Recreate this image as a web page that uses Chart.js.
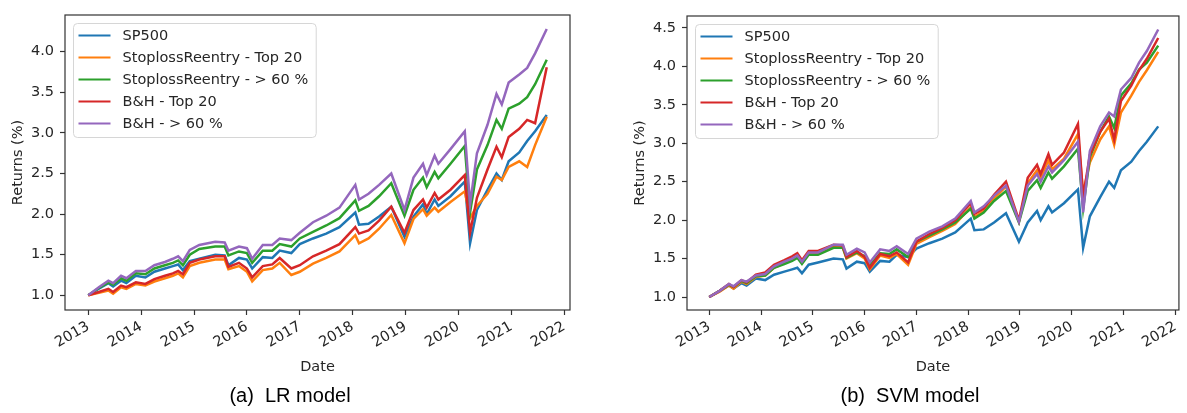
<!DOCTYPE html>
<html>
<head>
<meta charset="utf-8">
<script src="https://cdn.jsdelivr.net/npm/chart.js@4.4.0/dist/chart.umd.min.js"></script>
<style>
  body { margin: 0; background: #fff; width: 1187px; height: 413px; overflow: hidden; position: relative; }
  canvas { position: absolute; }
  .caption { position: absolute; width: 240px; text-align: center; font-family: "Liberation Sans", Arial, sans-serif; font-size: 20px; line-height: 24px; color: #000; white-space: pre; }
</style>
</head>
<body>
<canvas id="chart_lr" width="590" height="385" style="left:0px;top:0px"></canvas>
<canvas id="chart_svm" width="567" height="385" style="left:620px;top:0px"></canvas>
<div class="caption" style="left:170px;top:383px">(a)  LR model</div>
<div class="caption" style="left:790px;top:383px">(b)  SVM model</div>
<script>
// dates as decimal years
const dates = [2013.00, 2013.20, 2013.38, 2013.47, 2013.62, 2013.72, 2013.90,
  2014.08, 2014.25, 2014.45, 2014.60, 2014.70, 2014.79, 2014.92,
  2015.10, 2015.40, 2015.58, 2015.65, 2015.85,
  2016.00, 2016.10, 2016.30, 2016.48, 2016.62, 2016.84,
  2017.00, 2017.25, 2017.50, 2017.75,
  2018.05, 2018.12, 2018.30, 2018.50, 2018.73, 2018.98,
  2019.15, 2019.33, 2019.40, 2019.55, 2019.62, 2019.85,
  2020.12, 2020.22, 2020.35, 2020.55, 2020.72, 2020.82, 2020.95,
  2021.15, 2021.30, 2021.45, 2021.67];

const seriesLabels = ['SP500', 'StoplossReentry - Top 20', 'StoplossReentry - > 60 %', 'B&H - Top 20', 'B&H - > 60 %'];
const seriesColors = ['#1f77b4', '#ff7f0e', '#2ca02c', '#d62728', '#9467bd'];

const sp500 = [1.00,1.08,1.15,1.11,1.18,1.15,1.24, 1.22,1.29,1.33,1.36,1.38,1.31,1.42, 1.45,1.50,1.49,1.37,1.46,
  1.44,1.33,1.47,1.46,1.55,1.52, 1.63,1.70,1.76,1.84, 2.02,1.87,1.88,1.97,2.09,1.72,
  1.97,2.12,2.00,2.18,2.10,2.22, 2.40,1.64,2.05,2.30,2.50,2.42,2.65, 2.76,2.90,3.02,3.22];

// LR model
const lrStoplossTop20 = [1.00,1.03,1.06,1.02,1.10,1.08,1.14, 1.12,1.17,1.21,1.24,1.27,1.22,1.36, 1.40,1.44,1.44,1.32,1.36,
  1.29,1.17,1.31,1.33,1.40,1.25, 1.29,1.39,1.46,1.54, 1.74,1.64,1.70,1.82,1.99,1.64,
  1.94,2.06,1.98,2.08,2.03,2.15, 2.28,1.95,2.10,2.25,2.46,2.42,2.58, 2.65,2.58,2.85,3.20];
const lrStoplossOver60 = [1.00,1.09,1.16,1.13,1.21,1.18,1.27, 1.26,1.33,1.37,1.40,1.43,1.37,1.50, 1.57,1.60,1.60,1.49,1.54,
  1.52,1.40,1.55,1.55,1.63,1.60, 1.70,1.78,1.86,1.95, 2.17,2.04,2.10,2.22,2.38,1.98,
  2.30,2.45,2.33,2.52,2.44,2.62, 2.84,2.02,2.55,2.85,3.16,3.05,3.30, 3.36,3.44,3.60,3.90];
const lrBuyHoldTop20 = [1.00,1.04,1.08,1.04,1.12,1.10,1.16, 1.14,1.20,1.24,1.27,1.30,1.26,1.40, 1.44,1.48,1.48,1.35,1.40,
  1.33,1.22,1.36,1.38,1.46,1.33, 1.37,1.48,1.55,1.63, 1.84,1.76,1.80,1.92,2.09,1.77,
  2.05,2.18,2.08,2.26,2.18,2.30, 2.48,1.77,2.20,2.55,2.83,2.70,2.95, 3.05,3.16,3.12,3.81];
const lrBuyHoldOver60 = [1.00,1.10,1.18,1.15,1.24,1.21,1.30, 1.30,1.37,1.41,1.45,1.48,1.42,1.56, 1.62,1.66,1.65,1.55,1.60,
  1.58,1.45,1.62,1.62,1.70,1.68, 1.77,1.90,1.98,2.08, 2.36,2.18,2.25,2.36,2.50,2.05,
  2.45,2.62,2.48,2.72,2.62,2.80, 3.02,2.12,2.75,3.10,3.48,3.35,3.62, 3.72,3.80,3.98,4.28];

// SVM model
const svmStoplossTop20 = [1.00,1.07,1.15,1.11,1.20,1.17,1.26, 1.28,1.38,1.44,1.49,1.53,1.45,1.57, 1.57,1.65,1.64,1.50,1.57,
  1.50,1.36,1.54,1.51,1.56,1.42, 1.69,1.78,1.86,1.95, 2.17,2.04,2.12,2.28,2.44,1.98,
  2.48,2.65,2.55,2.78,2.66,2.80, 3.12,2.35,2.75,3.05,3.22,2.98,3.40, 3.62,3.80,3.95,4.19];
const svmStoplossOver60 = [1.00,1.08,1.16,1.13,1.21,1.18,1.27, 1.28,1.38,1.43,1.47,1.51,1.43,1.55, 1.55,1.64,1.64,1.51,1.58,
  1.53,1.41,1.57,1.56,1.62,1.52, 1.72,1.80,1.88,1.97, 2.15,2.02,2.10,2.25,2.38,1.97,
  2.38,2.52,2.42,2.62,2.54,2.70, 2.93,2.15,2.82,3.15,3.35,3.20,3.62, 3.78,3.96,4.05,4.27];
const svmBuyHoldTop20 = [1.00,1.08,1.17,1.13,1.22,1.19,1.29, 1.32,1.42,1.48,1.53,1.57,1.48,1.60, 1.60,1.68,1.67,1.52,1.60,
  1.52,1.38,1.56,1.53,1.58,1.45, 1.72,1.82,1.90,2.00, 2.22,2.08,2.15,2.33,2.50,2.00,
  2.55,2.72,2.60,2.86,2.72,2.88, 3.25,2.30,2.85,3.15,3.32,3.05,3.55, 3.75,3.95,4.10,4.37];
const svmBuyHoldOver60 = [1.00,1.08,1.17,1.14,1.22,1.20,1.28, 1.30,1.40,1.46,1.50,1.54,1.46,1.58, 1.58,1.68,1.68,1.55,1.63,
  1.58,1.45,1.62,1.60,1.66,1.56, 1.76,1.85,1.92,2.02, 2.25,2.10,2.18,2.32,2.45,1.98,
  2.45,2.60,2.50,2.70,2.62,2.78, 3.02,2.10,2.90,3.22,3.40,3.35,3.70, 3.85,4.05,4.20,4.48];

const yearTicks = [2013, 2014, 2015, 2016, 2017, 2018, 2019, 2020, 2021, 2022];
const lrYTicks = [1.0, 1.5, 2.0, 2.5, 3.0, 3.5, 4.0];
const svmYTicks = [1.0, 1.5, 2.0, 2.5, 3.0, 3.5, 4.0, 4.5];

const FONT = { family: 'DejaVu Sans', size: 14.5 };
const TEXT = '#262626';

// matplotlib style box around the axes
const frame = {
  id: 'frame',
  afterDraw(chart) {
    const { ctx, chartArea: a } = chart;
    ctx.save();
    ctx.strokeStyle = '#333';
    ctx.lineWidth = 1.2;
    ctx.strokeRect(a.left, a.top, a.right - a.left, a.bottom - a.top);
    ctx.restore();
  }
};

// legend box in the upper left corner of the axes
const legendBox = {
  id: 'legendBox',
  afterDatasetsDraw(chart) {
    const { ctx, chartArea: a } = chart;
    const sets = chart.data.datasets;
    ctx.save();
    ctx.font = FONT.size + 'px "' + FONT.family + '"';
    const tw = Math.max(...sets.map(d => ctx.measureText(d.label).width));
    const x0 = a.left + 8.5, y0 = a.top + 8.5;
    const w = tw + 57, h = sets.length * 22 + 4;
    ctx.beginPath();
    ctx.roundRect(x0, y0, w, h, 4);
    ctx.fillStyle = 'rgba(255,255,255,0.8)';
    ctx.fill();
    ctx.strokeStyle = '#d6d6d6';
    ctx.lineWidth = 1;
    ctx.stroke();
    sets.forEach((d, i) => {
      const y = y0 + 12 + i * 22;
      ctx.beginPath();
      ctx.moveTo(x0 + 5, y);
      ctx.lineTo(x0 + 37, y);
      ctx.strokeStyle = d.borderColor;
      ctx.lineWidth = 2.2;
      ctx.stroke();
      ctx.fillStyle = TEXT;
      ctx.textBaseline = 'middle';
      ctx.fillText(d.label, x0 + 49, y + 1);
    });
    ctx.restore();
  }
};

function makeChart(id, series, opts) {
  const datasets = series.map((s, i) => ({
    label: seriesLabels[i],
    data: dates.map((d, k) => ({ x: d, y: s[k] })),
    borderColor: seriesColors[i],
    borderWidth: 2.5,
    pointRadius: 0,
    tension: 0,
    order: series.length - i
  }));
  return new Chart(id, {
    type: 'line',
    data: { datasets: datasets },
    options: {
      responsive: false,
      devicePixelRatio: 1,
      animation: false,
      layout: { padding: opts.padding },
      plugins: { legend: { display: false }, tooltip: { enabled: false } },
      scales: {
        x: {
          type: 'linear',
          min: opts.xMin, max: opts.xMax,
          afterBuildTicks: s => { s.ticks = yearTicks.map(v => ({ value: v })); },
          afterFit: s => { s.height = 75; },
          ticks: { callback: v => String(v), minRotation: 30, maxRotation: 30, padding: 3, font: FONT, color: TEXT },
          grid: { drawOnChartArea: false, drawTicks: true, tickLength: 5, tickColor: '#333', tickWidth: 1.2 },
          border: { display: false },
          title: { display: true, text: 'Date', font: FONT, color: TEXT, padding: { top: 0, bottom: 9 } }
        },
        y: {
          type: 'linear',
          min: opts.yMin, max: opts.yMax,
          afterBuildTicks: s => { s.ticks = opts.yTicks.map(v => ({ value: v })); },
          afterFit: s => { s.width = opts.yWidth; },
          ticks: { callback: v => v.toFixed(1), padding: 6, font: FONT, color: TEXT },
          grid: { drawOnChartArea: false, drawTicks: true, tickLength: 5, tickColor: '#333', tickWidth: 1.2 },
          border: { display: false },
          title: { display: true, text: 'Returns (%)', font: FONT, color: TEXT, padding: { top: opts.yTitlePad, bottom: 0 } }
        }
      }
    },
    plugins: [frame, legendBox]
  });
}

makeChart('chart_lr', [sp500, lrStoplossTop20, lrStoplossOver60, lrBuyHoldTop20, lrBuyHoldOver60], {
  xMin: 2012.56, xMax: 2022.11, yMin: 0.819, yMax: 4.452, yTicks: lrYTicks,
  yWidth: 65, yTitlePad: 9.5, padding: { top: 15, right: 20, left: 0, bottom: 0 }
});

makeChart('chart_svm', [sp500, svmStoplossTop20, svmStoplossOver60, svmBuyHoldTop20, svmBuyHoldOver60], {
  xMin: 2012.57, xMax: 2022.07, yMin: 0.831, yMax: 4.656, yTicks: svmYTicks,
  yWidth: 67, yTitlePad: 11.5, padding: { top: 16, right: 0, left: 0, bottom: 0 }
});
</script>
</body>
</html>
